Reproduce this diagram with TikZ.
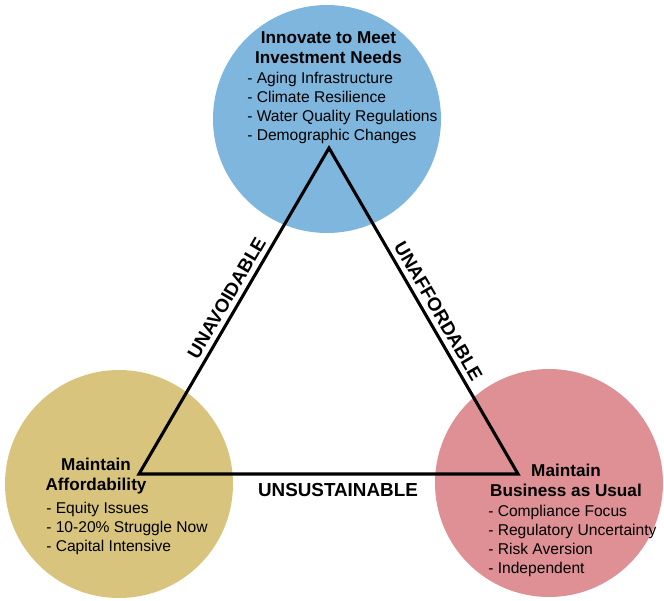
\documentclass[tikz,border=0pt]{standalone}
\usepackage{fontspec}
\setmainfont{Liberation Sans}
\definecolor{innovblue}{RGB}{126,182,222}
\definecolor{affgold}{RGB}{216,196,124}
\definecolor{busred}{RGB}{222,144,148}
\begin{document}
\begin{tikzpicture}[
  goal/.style={circle, minimum size=5.7cm, inner sep=0pt},
  head/.style={align=center, font=\fontsize{12.2}{14.2}\selectfont\bfseries},
  items/.style={align=left, anchor=west, inner sep=0pt, font=\fontsize{11.1}{13.5}\selectfont},
  edgelabel/.style={font=\fontsize{13.4}{15}\selectfont\bfseries},
  side/.style={line width=2.2pt}]
\useasboundingbox (0,0) rectangle (16.6,-15);

% the three goals
\node [goal, fill=innovblue] (I) at (8.175,-2.975) {};
\node [goal, fill=affgold] (A) at (2.975,-12.1) {};
\node [goal, fill=busred] (B) at (13.725,-12.075) {};

% triangle between them
\coordinate (top) at (8.225,-3.7);
\coordinate (left) at (3.475,-11.85);
\coordinate (right) at (12.95,-11.85);
\draw [side] (left)
  -- node [edgelabel, pos=0.52, sloped, above] (avoid) {UNAVOIDABLE} (top)
  -- node [edgelabel, pos=0.52, sloped, above] (afford) {UNAFFORDABLE} (right)
  -- node [edgelabel, pos=0.475, below=2pt] (sustain) {UNSUSTAINABLE} cycle;

% texts
\node [head] (Ihead) at (8.2125,-1.2) {Innovate to Meet\\Investment Needs};
\node [items] (Iitems) at (6.175,-2.7) {- Aging Infrastructure\\- Climate Resilience\\- Water Quality Regulations\\- Demographic Changes};

\node [head] (Ahead) at (2.4,-11.9125) {Maintain\\Affordability};
\node [items] (Aitems) at (1.15,-13.2) {- Equity Issues\\- 10-20\% Struggle Now\\- Capital Intensive};

\node [head] (Bhead) at (14.15,-12.0) {Maintain\\Business as Usual};
\node [items] (Bitems) at (12.2,-13.5125) {- Compliance Focus\\- Regulatory Uncertainty\\- Risk Aversion\\- Independent};

\end{tikzpicture}
\end{document}
